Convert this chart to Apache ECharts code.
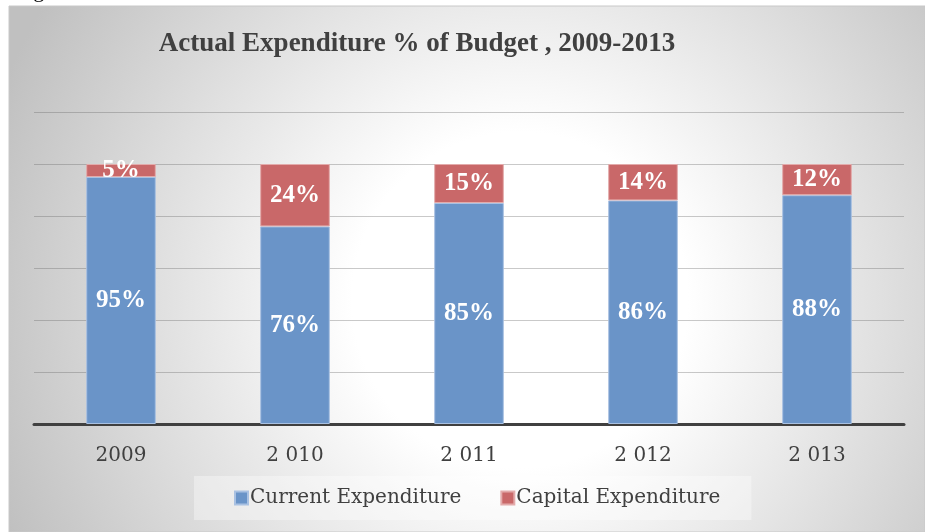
<!DOCTYPE html>
<html>
<head>
<meta charset="utf-8">
<script src="https://cdn.jsdelivr.net/npm/echarts@6/dist/echarts.min.js"></script>
<style>
  html, body { margin: 0; padding: 0; background: #ffffff; }
  #chart { width: 925px; height: 532px; }
</style>
</head>
<body>
<div id="chart"></div>
<script>
// Budget execution by year: share spent on current vs capital items
const years = ['2009', '2 010', '2 011', '2 012', '2 013'];
const currentExpenditure = [95, 76, 85, 86, 88];
const capitalExpenditure = [5, 24, 15, 14, 12];
const seriesNames = ['Current Expenditure', 'Capital Expenditure'];
const chartTitle = 'Actual Expenditure % of Budget , 2009-2013';

const serif = '"DejaVu Serif", "Liberation Serif", serif';
const textColor = '#404040';

const chart = echarts.init(document.getElementById('chart'), null, { renderer: 'canvas' });

const barLabel = {
  show: true,
  position: 'inside',
  formatter: '{c}%',
  color: '#ffffff',
  fontFamily: '"Liberation Serif", "Times New Roman", serif',
  fontWeight: 'bold',
  fontSize: 25
};

chart.setOption({
  animation: false,
  backgroundColor: '#ffffff',
  graphic: [
    {
      type: 'rect',
      z: -10,
      silent: true,
      shape: { x: 9, y: 6, width: 916, height: 526 },
      style: {
        fill: {
          type: 'radial', x: 520, y: 300, r: 560, global: true,
          colorStops: [
            { offset: 0, color: '#ffffff' },
            { offset: 0.3, color: '#ffffff' },
            { offset: 1, color: '#c0c0c0' }
          ]
        },
        stroke: '#c8c8c8',
        lineWidth: 1
      }
    },
    {
      // caption line above the frame, cut off by the top of the page
      type: 'text',
      z: 10,
      silent: true,
      x: 15,
      y: -20,
      style: {
        text: 'Figure',
        font: '22px "Liberation Serif", serif',
        fill: '#000000'
      }
    }
  ],
  title: {
    text: chartTitle,
    left: 412,
    textAlign: 'center',
    top: 26,
    textStyle: {
      fontFamily: '"Liberation Serif", "Times New Roman", serif',
      fontWeight: 'bold',
      fontSize: 27,
      color: textColor
    }
  },
  legend: {
    data: seriesNames,
    left: 194,
    top: 476,
    backgroundColor: 'rgba(255,255,255,0.35)',
    padding: [12, 31, 12, 40],
    itemWidth: 13,
    itemHeight: 13,
    itemGap: 39,
    icon: 'rect',
    textStyle: {
      fontFamily: serif,
      fontSize: 20,
      color: textColor,
      padding: [0, 0, 0, -3]
    }
  },
  grid: { left: 34, right: 21, top: 112, bottom: 108 },
  xAxis: {
    type: 'category',
    data: years,
    axisLine: { show: true, lineStyle: { color: '#404040', width: 3 } },
    axisTick: { show: false },
    axisLabel: {
      margin: 22,
      fontFamily: serif,
      fontSize: 20,
      color: textColor
    }
  },
  yAxis: {
    type: 'value',
    min: 0,
    max: 120,
    interval: 20,
    axisLabel: { show: false },
    axisLine: { show: false },
    axisTick: { show: false },
    splitLine: { lineStyle: { color: 'rgba(100,100,100,0.35)', width: 1 } }
  },
  series: [
    {
      name: seriesNames[0],
      type: 'bar',
      stack: 'budget',
      data: currentExpenditure,
      barWidth: '40%',
      itemStyle: { color: '#6a94c8', borderColor: '#a9c1e2', borderWidth: 1 },
      label: barLabel
    },
    {
      name: seriesNames[1],
      type: 'bar',
      stack: 'budget',
      data: capitalExpenditure,
      barWidth: '40%',
      itemStyle: { color: '#c96869', borderColor: '#e3abab', borderWidth: 1 },
      label: barLabel
    }
  ]
});
</script>
</body>
</html>
